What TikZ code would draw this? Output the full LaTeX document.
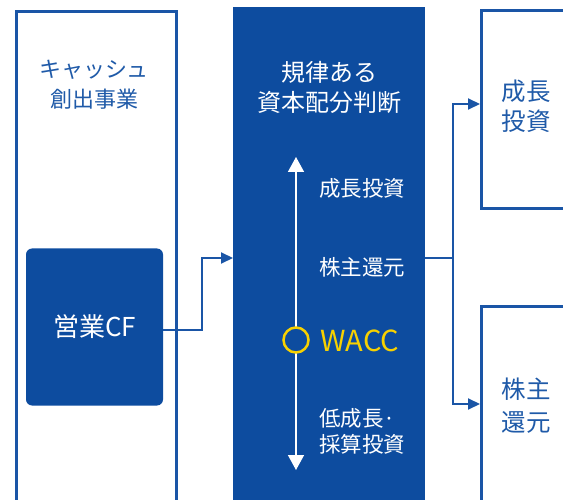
\documentclass[tikz,border=0pt]{standalone}
\usepackage{fontspec}
\setmainfont{Noto Sans CJK JP}
\usetikzlibrary{arrows.meta}
\definecolor{mblue}{HTML}{0D4C9F}
\definecolor{fblue}{HTML}{1A55A6}
\definecolor{tblue}{HTML}{1F5AA8}
\definecolor{wyellow}{HTML}{F7D100}
\tikzset{
  frame/.style={draw=fblue, line width=3pt, inner sep=0pt, anchor=north west},
  darkbox/.style={fill=mblue, draw=none, inner sep=0pt, anchor=north west},
  bluetxt/.style={text=tblue, font=\fontsize{22pt}{30pt}\selectfont, align=center},
  whitetxt/.style={text=white, font=\fontsize{21.5pt}{26pt}\selectfont, align=left, anchor=west, inner sep=0pt},
  conn/.style={draw=fblue, line width=2pt},
  arr/.style={-{Triangle[length=12pt,width=11pt]}},
}
\begin{document}
\begin{tikzpicture}[x=1pt,y=-1pt]
\useasboundingbox (0,0) rectangle (563,500);
\clip (0,0) rectangle (563,500);
% left frame
\node[frame, minimum width=160pt, minimum height=520pt] (lf) at (15,10) {};
\node[bluetxt] (lft) at (94,85) {キャッシュ\\創出事業};
\node[fill=mblue, rounded corners=6pt, minimum width=137pt, minimum height=157pt, inner sep=0pt,
      text=white, font=\fontsize{26pt}{30pt}\selectfont] (cf) at (94.5,327) {営業CF};
% middle
\node[darkbox, minimum width=192pt, minimum height=520pt] (mid) at (233,7) {};
\node[text=white, font=\fontsize{24pt}{30pt}\selectfont, align=center] (midt) at (329,87) {規律ある\\資本配分判断};
\node[whitetxt] (l1) at (319,188) {成長投資};
\node[whitetxt] (l2) at (319,267) {株主還元};
\node[whitetxt] (l3) at (319,431) {低成長·\\採算投資};
\coordinate (atop) at (296,157);
\coordinate (abot) at (296,470);
\draw[white, line width=1.5pt, {Triangle[length=15pt,width=16pt]}-{Triangle[length=15pt,width=16pt]}] (atop) -- (abot);
\node[circle, draw=wyellow, fill=mblue, line width=2.5pt, minimum size=25pt, inner sep=0pt] (wc) at (296,340) {};
\node[text=wyellow, font=\fontsize{29pt}{30pt}\selectfont, anchor=west, inner sep=0pt] (wacc) at (320,341) {WACC};
% right boxes
\node[frame, minimum width=150pt, minimum height=198pt] (gi) at (480,9) {};
\node[bluetxt, font=\fontsize{24.5pt}{30pt}\selectfont] (git) at (526,106) {成長\\投資};
\node[frame, minimum width=150pt, minimum height=230pt] (sr) at (480,305) {};
\node[bluetxt, font=\fontsize{24.5pt}{33pt}\selectfont] (srt) at (526,406) {株主\\還元};
% connectors
\coordinate (j1) at (202,330);
\coordinate (m1) at (233,258);
\draw[conn, arr] (cf.east |- j1) -- (j1) |- (m1);
\coordinate (m2) at (425,258);
\coordinate (j2) at (453,258);
\draw[conn] (m2) -- (j2);
\coordinate (g1) at (480,104);
\coordinate (s1) at (480,404);
\draw[conn, arr] (j2) |- (g1);
\draw[conn, arr] (j2) |- (s1);
\end{tikzpicture}
\end{document}
